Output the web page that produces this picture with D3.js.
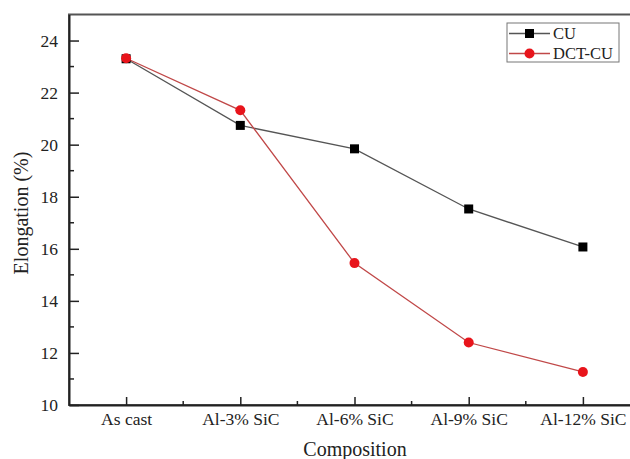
<!DOCTYPE html>
<html>
<head>
<meta charset="utf-8">
<script src="https://cdn.jsdelivr.net/npm/d3@7"></script>
<style>
  body { margin: 0; background: #fff; }
  svg { display: block; }
  text { font-family: "Liberation Serif", serif; }
</style>
</head>
<body>
<svg id="chart" width="630" height="459"></svg>
<script>
// values
const categories = ['As cast', 'Al-3% SiC', 'Al-6% SiC', 'Al-9% SiC', 'Al-12% SiC']
const cuValues = [23.3, 20.74, 19.84, 17.53, 16.07]
const dctValues = [23.32, 21.32, 15.45, 12.4, 11.27]
const yTicks = [10, 12, 14, 16, 18, 20, 22, 24]
const yMinor = [11, 13, 15, 17, 19, 21, 23]

const svg = d3.select('#chart')
const plotLeft = 69, plotRight = 640, plotTop = 14.5, plotBottom = 405

const x = d3.scalePoint().domain(categories).range([plotLeft, plotRight]).padding(0.5)
const y = d3.scaleLinear().domain([10, 25]).range([plotBottom, plotTop])

const font = 'Liberation Serif, serif'

// frame
svg.append('rect')
    .attr('x', plotLeft).attr('y', plotTop)
    .attr('width', plotRight - plotLeft).attr('height', plotBottom - plotTop)
    .attr('fill', 'none')
    .attr('stroke', '#555')
    .attr('stroke-width', 2)

// y axis
let yAxis = svg.append('g')
    .attr('transform', 'translate(' + plotLeft + ',0)')
    .call(d3.axisLeft(y).tickValues(yTicks).tickSizeInner(-10).tickSizeOuter(0).tickPadding(11))
    .attr('font-family', null)
    .style('font-family', font)
yAxis.select('.domain').attr('stroke', '#222').attr('stroke-width', 2)
yAxis.selectAll('.tick line').attr('stroke', '#222').attr('stroke-width', 1.5)
yAxis.selectAll('text')
    .style('font-family', font)
    .style('font-size', '17.5px')
    .attr('fill', '#222')

yAxis.selectAll('.minor')
    .data(yMinor)
    .enter().append('line')
    .attr('class', 'minor')
    .attr('x1', 0).attr('x2', 5)
    .attr('y1', d => y(d)).attr('y2', d => y(d))
    .attr('stroke', '#222').attr('stroke-width', 1.5)

// x axis
let xAxis = svg.append('g')
    .attr('transform', 'translate(0,' + plotBottom + ')')
    .call(d3.axisBottom(x).tickSizeInner(-8).tickSizeOuter(0).tickPadding(8))
    .attr('font-family', null)
    .style('font-family', font)
xAxis.select('.domain').attr('stroke', '#222').attr('stroke-width', 2)
xAxis.selectAll('.tick line').attr('stroke', '#222').attr('stroke-width', 1.5)
xAxis.selectAll('text')
    .style('font-family', font)
    .style('font-size', '17.5px')
    .attr('fill', '#222')

let mids = categories.slice(1).map((c, i) => (x(categories[i]) + x(c)) / 2)
xAxis.selectAll('.minor')
    .data(mids)
    .enter().append('line')
    .attr('class', 'minor')
    .attr('x1', d => d).attr('x2', d => d)
    .attr('y1', 0).attr('y2', -4)
    .attr('stroke', '#222').attr('stroke-width', 1.5)

// axis titles
svg.append('text')
    .attr('x', 355)
    .attr('y', 456)
    .attr('text-anchor', 'middle')
    .style('font-family', font)
    .style('font-size', '20px')
    .attr('fill', '#222')
    .text('Composition')

svg.append('text')
    .attr('transform', 'translate(28,213) rotate(-90)')
    .attr('text-anchor', 'middle')
    .style('font-family', font)
    .style('font-size', '20px')
    .attr('fill', '#222')
    .text('Elongation (%)')

// series
let line = d3.line().x((d, i) => x(categories[i])).y(d => y(d))

svg.append('path')
    .datum(cuValues)
    .attr('d', line)
    .attr('fill', 'none')
    .attr('stroke', '#555')
    .attr('stroke-width', 1.3)

svg.append('path')
    .datum(dctValues)
    .attr('d', line)
    .attr('fill', 'none')
    .attr('stroke', '#c04848')
    .attr('stroke-width', 1.3)

svg.selectAll('.cu')
    .data(cuValues)
    .enter().append('rect')
    .attr('class', 'cu')
    .attr('x', (d, i) => x(categories[i]) - 4.5)
    .attr('y', d => y(d) - 4.5)
    .attr('width', 9).attr('height', 9)
    .attr('fill', '#000')

svg.selectAll('.dct')
    .data(dctValues)
    .enter().append('circle')
    .attr('class', 'dct')
    .attr('cx', (d, i) => x(categories[i]))
    .attr('cy', d => y(d))
    .attr('r', 5)
    .attr('fill', '#e8141b')

// legend
let legend = svg.append('g').attr('transform', 'translate(507,23)')
legend.append('rect')
    .attr('width', 112).attr('height', 39)
    .attr('fill', '#fff')
    .attr('stroke', '#777')
    .attr('stroke-width', 1)

let items = [
    { name: 'CU', color: '#555', shape: 'square' },
    { name: 'DCT-CU', color: '#c04848', shape: 'circle' }
]
items.forEach(function(item, i) {
    let cy = 10.5 + i * 20
    legend.append('line')
        .attr('x1', 2).attr('x2', 43)
        .attr('y1', cy).attr('y2', cy)
        .attr('stroke', item.color)
        .attr('stroke-width', 1.3)
    if (item.shape === 'square') {
        legend.append('rect')
            .attr('x', 22.5 - 4.5).attr('y', cy - 4.5)
            .attr('width', 9).attr('height', 9)
            .attr('fill', '#000')
    } else {
        legend.append('circle')
            .attr('cx', 22.5).attr('cy', cy).attr('r', 5)
            .attr('fill', '#e8141b')
    }
    legend.append('text')
        .attr('x', 46)
        .attr('y', cy)
        .attr('dy', '0.35em')
        .style('font-family', font)
        .style('font-size', '16.5px')
        .attr('fill', '#222')
        .text(item.name)
})
</script>
</body>
</html>
